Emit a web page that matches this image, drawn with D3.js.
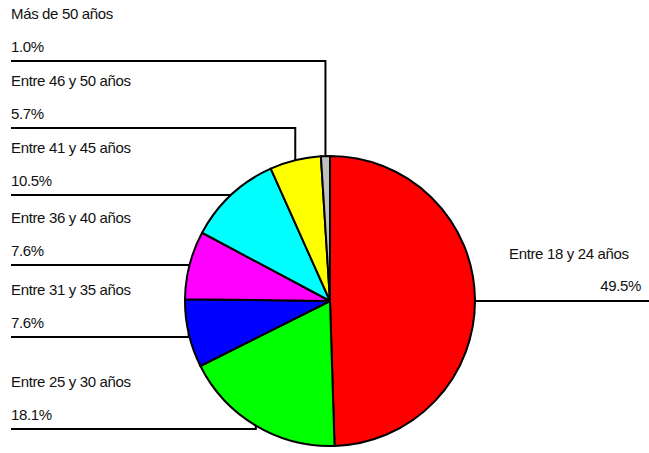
<!DOCTYPE html>
<html>
<head>
<meta charset="utf-8">
<script src="https://cdn.jsdelivr.net/npm/d3@7"></script>
<style>
  body { margin: 0; background: #fff; }
  text { font-family: "Liberation Sans", Arial, sans-serif; font-size: 15px; letter-spacing: -0.35px; fill: #111; }
</style>
</head>
<body>
<svg width="649" height="453"></svg>
<script>
// data, in drawing order (clockwise from 12 o'clock)
var categories = ["Entre 18 y 24 años", "Entre 25 y 30 años", "Entre 31 y 35 años",
                  "Entre 36 y 40 años", "Entre 41 y 45 años", "Entre 46 y 50 años", "Más de 50 años"];
var values = [49.5, 18.1, 7.6, 7.6, 10.5, 5.7, 1.0];
var colors = ["#ff0000", "#00ff00", "#0000ff", "#ff00ff", "#00ffff", "#ffff00", "#c0c0c0"];

var cx = 330, cy = 301, radius = 145;

var svg = d3.select("svg");

var pie = d3.pie().sort(null).value(function (d) { return d; });
var arcs = pie(values);

var arc = d3.arc().innerRadius(0).outerRadius(radius);

// point on the rim at the middle of each slice
function rim(d) {
  var a = (d.startAngle + d.endAngle) / 2;
  return [cx + radius * Math.sin(a), cy - radius * Math.cos(a)];
}

// label slots on the left, bottom slice first (layout only)
var leftSlots = {1: 429, 2: 337, 3: 265, 4: 195, 5: 128, 6: 61};
var leftX = 11;

var lines = svg.append("g");
var labels = svg.append("g");

arcs.forEach(function (d, i) {
  var p = rim(d);
  var pct = d3.format(".1f")(values[i]) + "%";
  if (i === 0) {
    // right hand label for the big slice
    var ly = cy;
    lines.append("line")
      .attr("x1", cx + radius).attr("y1", ly)
      .attr("x2", 649).attr("y2", ly)
      .attr("stroke", "#000").attr("stroke-width", 2);
    labels.append("text").attr("x", 509).attr("y", ly - 42).text(categories[i]);
    labels.append("text").attr("x", 641).attr("y", ly - 10)
      .attr("text-anchor", "end").text(pct);
  } else {
    var y = leftSlots[i];
    lines.append("path")
      .attr("d", "M" + leftX + "," + y + "H" + p[0] + "V" + p[1])
      .attr("fill", "none")
      .attr("stroke", "#000").attr("stroke-width", 2);
    labels.append("text").attr("x", leftX).attr("y", y - 42).text(categories[i]);
    labels.append("text").attr("x", leftX).attr("y", y - 9).text(pct);
  }
});

// the pie itself, drawn over the leader lines
svg.append("g")
  .attr("transform", "translate(" + cx + "," + cy + ")")
  .selectAll("path")
  .data(arcs)
  .enter()
  .append("path")
  .attr("d", arc)
  .attr("fill", function (d, i) { return colors[i]; })
  .attr("stroke", "#000")
  .attr("stroke-width", 2)
  .attr("stroke-linejoin", "round");
</script>
</body>
</html>
